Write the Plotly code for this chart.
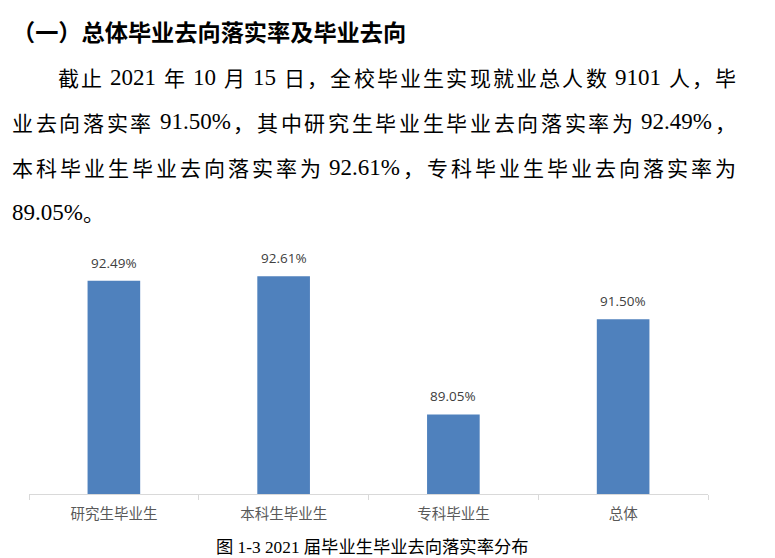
import re
import plotly.graph_objects as go

# ---------------- data ----------------
categories = ["研究生毕业生", "本科生毕业生", "专科毕业生", "总体"]
rates = [92.49, 92.61, 89.05, 91.50]

heading = "（一）总体毕业去向落实率及毕业去向"
paragraph_lines = [
    "截止 2021 年 10 月 15 日，全校毕业生实现就业总人数 9101 人，毕",
    "业去向落实率 91.50%，其中研究生毕业生毕业去向落实率为 92.49%，",
    "本科毕业生毕业去向落实率为 92.61%，专科毕业生毕业去向落实率为",
    "89.05%。",
]
caption = "图 1-3 2021 届毕业生毕业去向落实率分布"

# ---------------- layout geometry ----------------
W, H = 775, 558
ML, MR, MT, MB = 29, 67, 261, 64
PW = W - ML - MR
PH = H - MT - MB
Y0 = H - MB


def px(x, y):
    return (x - ML) / PW, (Y0 - y) / PH


fig = go.Figure()
fig.add_trace(go.Bar(
    x=categories, y=rates, width=0.31,
    marker=dict(color="#4F81BD", line=dict(width=0)),
    hoverinfo="skip", showlegend=False,
))

annotations = []
# data labels
for c, v in zip(categories, rates):
    annotations.append(dict(
        x=c, y=v, xref="x", yref="y", text=f"{v:.2f}%", showarrow=False,
        yanchor="middle", xanchor="center", yshift=18,
        font=dict(family="Open Sans", size=13.5, color="#404040"),
    ))

# heading
hx, hy = px(11, 31)
annotations.append(dict(
    x=hx, y=hy, xref="paper", yref="paper", text=heading, showarrow=False,
    xanchor="left", yanchor="middle", borderpad=0,
    font=dict(family="Noto Sans CJK SC", size=23.2, color="#000000", weight="bold"),
))

# paragraph with justified lines
FC = 21.0     # CJK size
FL = 23.0     # Latin size
LAT_W = {"0": .5, "1": .5, "2": .5, "3": .5, "4": .5, "5": .5, "6": .5,
         "7": .5, "8": .5, "9": .5, ".": .25, "%": .833, "-": .333}


def tokenize(s):
    toks = []
    space = False
    for m in re.finditer(r"[0-9.%\-]+|\s+|.", s):
        t = m.group(0)
        if t.isspace():
            space = True
            continue
        kind = "lat" if re.match(r"[0-9.%\-]", t) else "cjk"
        toks.append([t, kind, space])
        space = False
    return toks


def tok_w(t, kind):
    if kind == "cjk":
        return FC
    return sum(LAT_W.get(ch, .5) for ch in t) * FL


line_y = [77, 122, 167, 212]
left_x = [57, 11, 11, 11]
right_x = 735
for i, (line, ly, lx) in enumerate(zip(paragraph_lines, line_y, left_x)):
    toks = tokenize(line)
    widths = [tok_w(t, k) for t, k, _ in toks]
    spaces = [(0.25 * FL if sp else 0) for _, _, sp in toks]
    natural = sum(widths) + sum(spaces)
    justify = i < len(paragraph_lines) - 1
    gap = (right_x - lx - natural) / (len(toks) - 1) if justify else 0
    x = lx
    for j, ((t, k, sp), w) in enumerate(zip(toks, widths)):
        x += spaces[j]
        ax, ay = px(x, ly)
        annotations.append(dict(
            x=ax, y=ay, xref="paper", yref="paper", text=t, showarrow=False,
            xanchor="left", yanchor="middle", borderpad=0,
            font=dict(family="Liberation Serif" if k == "lat" else "Noto Sans CJK SC",
                      size=FL if k == "lat" else FC, color="#000000"),
        ))
        x += w + gap

# caption
cx, cy = px(372, 547)
annotations.append(dict(
    x=cx, y=cy, xref="paper", yref="paper", text=caption, showarrow=False,
    xanchor="center", yanchor="middle", borderpad=0,
    font=dict(family="Liberation Serif, Noto Sans CJK SC", size=17.3, color="#000000"),
))

fig.update_layout(
    width=W, height=H,
    margin=dict(l=ML, r=MR, t=MT, b=MB, autoexpand=False),
    paper_bgcolor="white", plot_bgcolor="white",
    annotations=annotations,
    bargap=0.69,
    xaxis=dict(
        showline=True, linecolor="#D9D9D9", linewidth=1,
        ticks="outside", tickson="boundaries", ticklen=5, tickcolor="#D9D9D9",
        ticklabelstandoff=7,
        tickfont=dict(family="Noto Sans CJK SC", size=14.5, color="#595959"),
        showgrid=False, zeroline=False, fixedrange=True,
    ),
    yaxis=dict(range=[87, 93], visible=False, showgrid=False, zeroline=False,
               fixedrange=True),
    hovermode=False,
)

fig.write_html("out.html")
